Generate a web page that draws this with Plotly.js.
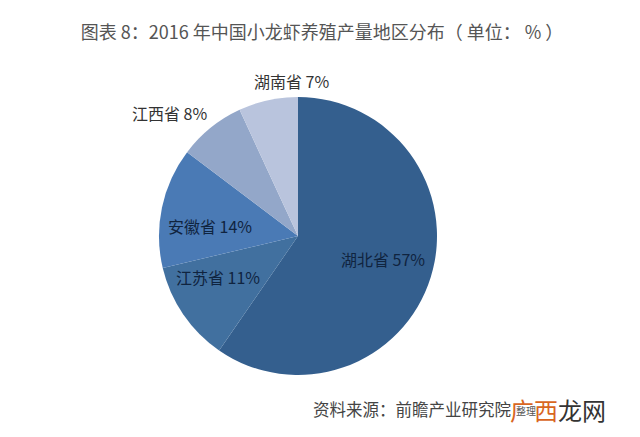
<!DOCTYPE html>
<html><head><meta charset="utf-8">
<script src="https://cdn.plot.ly/plotly-3.0.1.min.js"></script>
<style>html,body{margin:0;padding:0;background:#fff}#c{width:640px;height:437px}</style>
</head><body><div id="c"></div>
<script>
const provinces = ['湖北省','江苏省','安徽省','江西省','湖南省'];
const printedShares = [57,11,14,8,7];
const sliceShares = [59.6,11.7,14,7.8,6.9];
const sliceColors = ['#345f8e','#41709f','#4a7ab5','#93a7c9','#b9c4dd'];
const labelX = [383,218,210,169,291];
const labelY = [259,277,226,113,81];
const W=640,H=437;
const cjk = '"Noto Sans CJK SC","Liberation Sans",sans-serif';
const annotations = provinces.map((p,i)=>({
  text:p+' '+printedShares[i]+'%', xref:'paper',yref:'paper',
  x:labelX[i]/W,y:1-labelY[i]/H,xanchor:'center',yanchor:'middle',showarrow:false,
  font:{family:cjk,size:16,color:i===3||i===4?'#333333':'#10243f'}
}));
annotations.push({text:'资料来源：前瞻产业研究院',xref:'paper',yref:'paper',x:311/W,y:1-409/H,xanchor:'left',yanchor:'middle',showarrow:false,font:{family:cjk,size:16.5,color:'#444444'}});
annotations.push({text:'整理',xref:'paper',yref:'paper',x:514/W,y:1-410/H,xanchor:'left',yanchor:'middle',showarrow:false,font:{family:cjk,size:10,color:'#555555'}});
annotations.push({text:'<span style="color:#d9661f">广西</span><span style="color:#333333">龙网</span>',xref:'paper',yref:'paper',x:508/W,y:1-409/H,xanchor:'left',yanchor:'middle',showarrow:false,font:{family:cjk,size:24}});
Plotly.newPlot('c',[{
  type:'pie',labels:provinces,values:sliceShares,sort:false,direction:'clockwise',rotation:0,
  textinfo:'none',hoverinfo:'label+text',showlegend:false,
  marker:{colors:sliceColors,line:{width:0}},
  domain:{x:[159/W,437/W],y:[1-375/H,1-97/H]}
}],{
  width:W,height:H,margin:{l:0,r:0,t:0,b:0},paper_bgcolor:'#fff',showlegend:false,
  title:{text:'图表 8：2016 年中国小龙虾养殖产量地区分布（ 单位： % ）',x:322/W,xanchor:'center',y:1-33/H,yanchor:'middle',font:{family:cjk,size:18,color:'#555555'}},
  annotations
},{staticPlot:true});
</script></body></html>
